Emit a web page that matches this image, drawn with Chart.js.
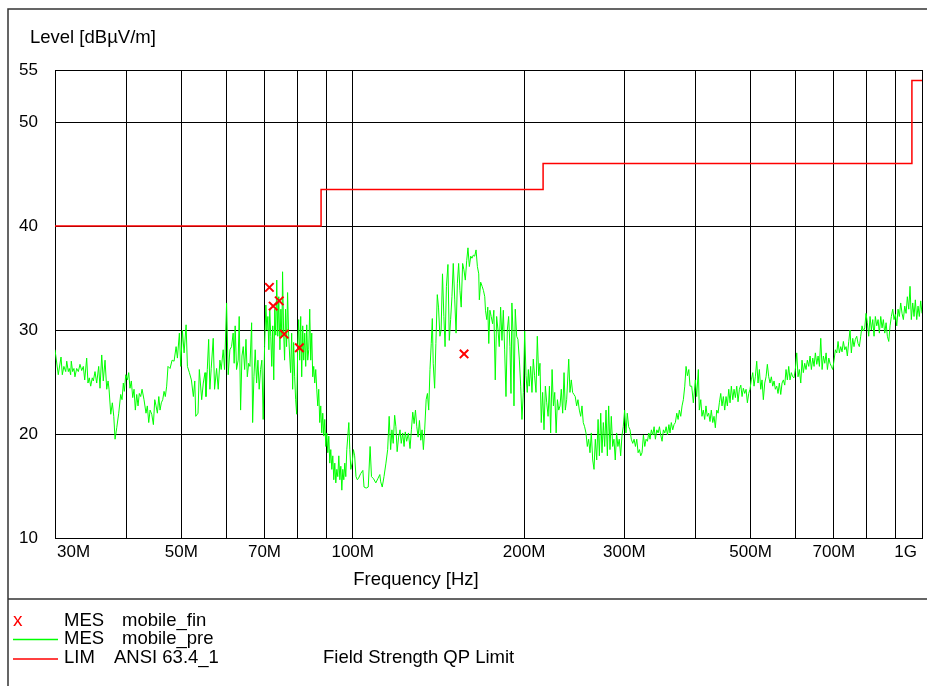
<!doctype html>
<html lang="en">
  <head>
    <meta charset="utf-8">
    <title>Field strength scan</title>
    <script src="https://cdn.jsdelivr.net/npm/chart.js"></script>
    <style>
      body { margin: 0; background: #fff; }
      canvas { display: block; }
    </style>
  </head>
  <body>
    <canvas id="scanChart" width="927" height="686"></canvas>
    <script>
      // pre-scan trace, frequency in MHz
      const traceFreq = [
        30.0, 30.4, 30.74, 30.9, 31.1, 31.33, 31.46, 31.66, 31.78, 31.96, 32.04, 32.22,
        32.39, 32.52, 32.75, 32.97, 33.19, 33.42, 33.64, 33.83, 34.1, 34.28, 34.46, 34.66,
        34.88, 35.03, 35.27, 35.51, 35.8, 35.99, 36.24, 36.47, 36.73, 36.98, 37.18, 37.33,
        37.59, 37.83, 38.05, 38.25, 38.51, 38.82, 39.13, 39.34, 39.55, 39.71, 39.94, 40.2,
        40.42, 40.63, 40.85, 41.08, 41.3, 41.52, 41.75, 41.97, 42.19, 42.43, 42.66, 43.0,
        43.35, 43.58, 43.83, 44.07, 44.37, 44.66, 44.91, 45.15, 45.39, 45.65, 45.88, 46.12,
        46.38, 46.63, 46.87, 47.13, 47.38, 47.78, 48.17, 48.56, 48.96, 49.22, 49.61, 49.89,
        50.22, 50.57, 50.98, 51.25, 51.66, 52.08, 52.5, 52.8, 53.01, 53.5, 53.78, 54.3,
        54.65, 55.03, 55.25, 55.54, 55.85, 56.13, 56.43, 56.89, 57.2, 57.67, 58.05, 58.45,
        58.75, 59.23, 59.56, 60.05, 60.44,
        60.86, 61.27, 61.67, 61.92, 62.17, 62.52, 62.93, 63.19, 63.55, 63.9, 64.24, 64.6,
        64.95, 65.3, 65.66, 66.0, 66.45, 66.72, 67.07, 67.42, 67.8, 68.16, 68.51, 68.9,
        69.26, 69.63, 70.02, 70.39, 70.67, 70.96, 71.25, 71.5, 71.8, 72.09, 72.38, 72.67,
        72.97, 73.26, 73.56, 73.86, 74.16, 74.5, 74.8, 75.1, 75.31, 75.62, 75.92, 76.23,
        76.54, 76.85, 77.16, 77.5, 77.8, 78.13, 78.44, 78.76, 79.08, 79.4, 79.73, 80.05,
        80.38, 80.71, 81.04, 81.37, 81.7, 82.03, 82.37, 82.7, 83.04, 83.38, 83.72, 84.05,
        84.4, 84.74, 85.08, 85.42, 85.77, 86.12, 86.47, 86.82, 87.17, 87.52, 87.88, 88.24,
        88.6, 88.96, 89.32, 89.7, 90.05, 90.42, 90.79, 91.15, 91.52, 91.9, 92.27, 92.64,
        93.02, 93.4, 93.78, 94.16, 94.54, 94.93, 95.31, 95.7, 96.08, 96.47, 96.86, 97.25,
        97.65, 98.05, 98.45, 98.85, 99.25, 99.77, 100.3, 100.8, 101.35, 101.9,
        102.3, 103.3, 104.2, 104.7, 105.6, 106.5, 107.3, 107.9, 108.8, 109.8, 110.7, 111.6,
        112.0, 112.7, 113.5, 114.4, 115.2, 115.9, 116.6, 117.2, 117.8, 118.5, 119.1, 119.7,
        120.4, 121.1, 121.7, 122.4, 123.1, 123.7, 124.4, 125.3, 126.1, 126.8, 127.5, 128.2,
        128.9, 129.6, 130.3, 131.0, 131.7, 132.4, 133.1, 133.8, 134.6, 135.3, 136.0, 136.7,
        137.4, 138.0, 138.5, 139.3, 140.0, 140.8, 141.5, 142.3, 143.0, 143.8, 144.6, 145.3,
        146.1, 147.0, 147.8, 148.6, 149.4, 150.2, 151.1, 151.9, 152.7, 153.5, 154.3, 155.1,
        156.0, 156.8, 157.7, 158.6, 159.4, 160.3, 161.2, 162.0, 162.9, 163.8, 164.7, 165.6,
        166.5, 166.9, 167.8, 168.8, 169.7, 170.6, 171.1, 172.0, 172.7, 173.4, 174.2, 175.1,
        176.1, 177.0, 178.0, 179.0, 180.0, 180.9, 181.9, 182.9, 183.9, 184.9, 185.9, 186.9,
        187.9, 188.9, 189.7, 190.4, 191.2,
        192.0, 193.0, 194.1, 195.1, 196.2, 197.3, 198.3, 199.4, 200.5, 201.6, 202.6, 203.5,
        204.2, 205.4, 206.5, 207.6, 208.7, 209.9, 211.0, 212.2, 213.3, 214.4, 215.6, 216.8,
        218.0, 219.2, 220.4, 221.6, 222.7, 224.0, 225.2, 226.4, 227.7, 228.9, 230.1, 231.3,
        232.5, 233.8, 235.1, 236.3, 237.6, 239.6, 240.8, 242.1, 243.4, 244.7, 246.0, 247.4,
        248.7, 250.1, 251.5, 252.8, 254.1, 255.5, 256.9, 258.3, 259.7, 261.1, 262.5, 264.0,
        265.4, 266.8, 268.3, 269.8, 271.2, 272.7, 274.1, 275.6, 277.1, 278.6, 280.1, 281.6,
        283.1, 284.6, 286.2, 287.7, 289.2, 290.8, 292.3, 293.9, 295.6, 297.1, 298.7, 300.4,
        302.0, 303.6, 305.3, 307.0, 308.6, 310.4, 312.1, 313.8, 315.5, 317.2, 318.9, 320.6,
        322.3, 324.1, 325.9, 327.6, 329.4, 331.2, 332.9, 334.7, 336.6, 338.4, 340.2, 342.1,
        344.0, 345.8, 347.6, 349.5, 351.4, 353.4, 355.3, 357.2, 359.3, 360.9, 362.8, 364.9,
        366.8, 368.8, 370.9, 372.9, 374.8, 376.9, 378.9, 380.9, 383.1, 385.1, 387.2, 389.4,
        391.3,
        394.0, 396.6, 399.8, 402.0, 404.7, 406.3, 408.7, 410.7, 412.9, 415.2, 417.4, 419.6,
        422.0, 424.3, 426.5, 429.0, 431.2, 433.5, 436.0, 438.3, 440.6, 443.1, 445.4, 447.8,
        450.3, 452.7, 455.1, 457.7, 460.1, 462.5, 465.2, 467.6, 470.1, 472.7, 475.2, 477.8,
        480.5, 483.0, 485.5, 488.3, 490.9, 493.5, 496.2, 498.8, 501.4, 504.3, 507.0, 509.6,
        512.5, 515.2, 518.0, 520.9, 523.6, 526.4, 529.4, 532.2, 535.0, 538.0, 540.9, 543.7,
        546.8, 549.7, 552.6, 555.7, 558.6, 561.6, 564.8, 567.8, 570.8, 574.0, 577.0, 580.1,
        583.3, 586.4, 589.5, 592.8, 596.0, 599.1, 602.5, 605.7, 608.9, 612.4, 615.6, 618.8,
        622.3, 625.6, 629.0, 632.6, 635.9, 639.3, 642.9, 646.3, 649.7, 653.4, 656.9, 660.4,
        664.0, 667.6, 671.1, 674.9, 678.5, 682.1, 686.0, 689.4, 693.1, 697.0, 700.7, 704.4,
        708.4, 712.1, 715.9, 719.9, 723.7, 727.6, 731.7, 735.6, 739.4, 743.6, 747.5, 751.4,
        755.7, 759.6, 763.6, 768.0, 772.0, 776.1, 780.5, 784.6, 788.7, 793.2, 797.4, 801.6,
        806.1, 810.5, 814.8, 819.4, 823.7, 828.0, 832.8, 837.2, 841.6, 846.3, 850.8, 855.3,
        860.2, 864.8, 869.3, 874.2, 878.8, 883.4, 888.4, 893.1, 897.8, 902.9, 907.7, 912.4,
        917.5, 922.5, 927.4, 932.6, 937.6, 942.5, 947.9, 952.7, 957.8, 963.2, 968.3, 973.4,
        978.9, 984.1, 989.2, 994.8, 1000
      ];
      // pre-scan level, dBµV/m
      const traceLevel = [
        28.1, 25.7, 27.4, 25.7, 26.5, 26.0, 27.0, 26.0, 26.3, 25.7, 27.0, 26.0,
        26.3, 25.5, 26.3, 26.0, 26.7, 26.1, 26.5, 25.2, 27.3, 24.9, 25.4, 24.6,
        25.4, 25.1, 26.0, 24.9, 26.5, 24.4, 27.6, 25.1, 27.1, 24.3, 25.1, 24.3,
        21.9, 23.0, 21.7, 19.5, 20.6, 22.0, 23.8, 23.3, 24.9, 24.1, 25.7, 25.2,
        25.9, 24.4, 25.1, 23.5, 24.3, 22.3, 23.8, 22.7, 23.9, 23.6, 24.3, 23.3,
        22.0, 22.7, 21.1, 22.3, 21.9, 20.9, 23.3, 22.7, 22.0, 23.6, 22.3, 23.0,
        23.3, 24.1, 23.6, 24.6, 26.5, 26.3, 27.1, 27.0, 28.4, 27.3, 29.7, 26.5,
        30.0, 27.8, 30.5, 26.5, 25.9, 25.2, 23.6, 25.1, 21.7, 22.0, 26.2, 23.3,
        24.9, 25.9, 23.6, 26.2, 29.1, 24.3, 26.3, 29.2, 24.3, 26.3, 24.3, 27.1,
        26.2, 28.1, 26.2, 32.6, 25.7,
        28.1, 28.4, 29.7, 26.8, 30.4, 26.2, 27.1, 31.3, 22.3, 27.5, 28.4, 26.2,
        29.1, 25.5, 26.8, 26.5, 30.7, 21.1, 25.5, 28.1, 24.9, 27.1, 24.3, 26.2,
        27.1, 21.4, 28.4, 32.4, 30.0, 31.3, 28.1, 32.0, 29.4, 26.5, 30.4, 25.2,
        32.0, 29.5, 34.8, 29.4, 33.2, 28.1, 32.0, 29.4, 35.6, 30.0, 27.1, 32.0,
        28.4, 33.6, 29.7, 27.5, 25.9, 29.7, 24.3, 28.8, 25.5, 23.3, 21.9, 28.1,
        31.0, 27.1, 31.3, 25.5, 30.4, 27.1, 29.7, 26.5, 30.5, 27.1, 28.1, 32.0,
        27.1, 29.7, 25.5, 26.5, 24.9, 26.2, 24.3, 22.7, 24.3, 21.1, 22.7, 20.1,
        22.0, 19.8, 21.4, 18.8, 20.1, 18.2, 19.8, 17.2, 18.5, 16.6, 17.9, 15.6,
        17.2, 15.3, 16.6, 15.9, 17.9, 15.6, 16.9, 14.6, 16.6, 15.6, 17.2, 15.9,
        18.5, 19.8, 21.1, 18.5, 16.6, 17.2, 18.5, 17.9, 15.9, 15.6,
        15.7, 16.2, 16.5, 14.9, 14.8, 14.9, 18.8, 15.9, 15.7, 15.3, 15.7, 16.1,
        15.4, 14.9, 15.9, 17.2, 18.5, 21.7, 18.5, 20.4, 19.1, 21.8, 20.7, 18.3,
        19.7, 20.4, 19.1, 20.1, 18.8, 20.2, 19.3, 20.1, 18.6, 20.4, 22.1, 21.0,
        22.3, 20.7, 19.7, 21.3, 19.4, 20.4, 18.5, 20.4, 23.3, 23.9, 22.3, 26.2,
        28.7, 31.1, 26.8, 24.4, 28.7, 33.4, 32.2, 29.4, 30.0, 35.4, 31.3, 28.4,
        34.2, 36.3, 29.0, 31.0, 33.2, 36.4, 32.9, 29.7, 34.5, 36.4, 33.8, 32.2,
        36.4, 35.8, 34.8, 36.7, 37.9, 36.1, 37.1, 36.9, 37.2, 37.1, 37.7, 36.1,
        35.4, 32.9, 34.6, 34.2, 33.8, 33.2, 31.9, 31.0, 32.2, 28.7, 31.9, 31.3,
        30.6, 31.9, 25.2, 31.3, 30.0, 28.4, 32.2, 29.0, 31.9, 28.1, 23.6, 30.0,
        31.3, 28.4, 23.9, 32.6, 30.0,
        22.7, 32.0, 29.4, 29.1, 27.2, 24.6, 21.4, 24.0, 29.9, 25.6, 24.0, 26.2,
        24.6, 26.5, 24.0, 27.2, 25.6, 24.0, 29.4, 25.6, 26.8, 21.1, 24.0, 20.4,
        24.6, 23.0, 21.7, 24.6, 20.1, 26.2, 22.7, 24.0, 20.1, 23.3, 22.3, 22.7,
        24.3, 22.0, 25.9, 22.3, 23.3, 27.2, 24.0, 25.2, 24.0, 23.8, 23.6, 22.7,
        23.3, 22.3, 21.7, 22.7, 21.1, 20.7, 20.1, 18.8, 19.5, 18.2, 20.1, 17.5,
        16.6, 19.5, 17.5, 21.4, 17.9, 22.0, 18.2, 21.1, 18.8, 22.3, 17.9, 22.7,
        18.5, 21.7, 18.8, 19.5, 17.5, 20.1, 18.8, 19.5, 17.9, 19.8, 20.7, 22.3,
        20.1, 22.0, 20.7, 20.4, 19.5, 19.1, 19.5, 18.8, 19.5, 18.2, 18.5, 17.9,
        18.2, 19.9, 18.8, 19.5, 19.3, 20.1, 19.5, 20.4, 19.9, 20.7, 19.5, 20.4,
        20.1, 20.7, 19.9, 19.3, 20.4, 20.1, 20.7, 19.9, 20.9, 20.1, 21.1, 20.4,
        20.9, 21.1, 22.0, 21.4, 22.3, 21.7, 22.7, 23.3, 24.6, 26.5, 25.6, 26.2,
        24.6,
        24.6, 23.0, 25.2, 23.6, 26.2, 22.3, 23.3, 21.7, 22.3, 21.4, 22.7, 21.7,
        22.0, 21.2, 22.3, 21.1, 21.7, 20.6, 22.3, 22.0, 23.0, 23.9, 22.7, 23.6,
        22.3, 23.6, 22.7, 24.3, 23.0, 24.6, 23.3, 24.3, 23.5, 24.6, 23.1, 24.3,
        24.7, 23.6, 24.4, 23.9, 24.3, 23.0, 23.9, 24.3, 25.2, 25.9, 24.6, 25.5,
        27.0, 24.9, 26.2, 24.3, 25.2, 23.3, 24.9, 25.5, 26.7, 25.5, 24.9, 25.5,
        24.6, 25.1, 24.3, 24.6, 23.9, 24.9, 23.8, 24.9, 25.2, 24.7, 26.2, 25.2,
        26.5, 25.2, 25.9, 25.5, 25.4, 26.2, 27.8, 25.5, 26.2, 24.9, 27.1, 25.9,
        26.8, 26.2, 27.1, 26.5, 27.5, 26.2, 27.3, 26.5, 27.8, 26.7, 27.5, 26.5,
        29.2, 26.2, 27.5, 26.8, 27.8, 26.2, 27.3, 26.8, 26.5, 26.2, 27.1, 28.1,
        27.8, 28.9, 27.8, 28.4, 27.9, 28.9, 28.1, 28.4, 27.5, 28.9, 30.0, 27.8,
        29.2, 28.4, 29.1, 29.4, 28.7, 28.4, 29.4, 30.4, 29.9, 30.2, 31.6, 30.7,
        29.4, 31.3, 30.0, 31.0, 29.4, 31.3, 30.4, 31.0, 29.7, 31.3, 30.2, 31.0,
        29.7, 30.7, 29.4, 28.9, 30.4, 31.3, 32.0, 31.0, 31.5, 30.4, 32.0, 31.3,
        32.6, 31.6, 31.0, 32.3, 31.6, 33.2, 32.0, 34.2, 31.0, 32.6, 31.3, 32.9,
        31.0, 32.3, 31.3, 32.8, 31.6
      ];

      // final measurements
      const finalFreq = [71.4, 72.5, 74.3, 75.8, 80.6, 156.9];
      const finalLevel = [34.1, 32.3, 32.8, 29.6, 28.3, 27.7];

      // limit steps (each level holds until the next frequency)
      const limitFreq = [30, 88, 216, 960, 1000];
      const limitLevel = [40, 43.5, 46, 54, 54];

      const gridFreq = [30, 40, 50, 60, 70, 80, 90, 100, 200, 300, 400, 500, 600, 700, 800, 900, 1000];
      const freqTicks = [30, 50, 70, 100, 200, 300, 500, 700, 1000];
      const freqTickLabels = ['30M', '50M', '70M', '100M', '200M', '300M', '500M', '700M', '1G'];
      const levelTicks = [10, 20, 30, 40, 50, 55];

      const legendRows = [
        ['MES', 'mobile_fin', ''],
        ['MES', 'mobile_pre', ''],
        ['LIM', 'ANSI 63.4_1', 'Field Strength QP Limit']
      ];

      const FONT = '"Liberation Sans", Arial, Helvetica, sans-serif';
      Chart.defaults.font.family = FONT;
      Chart.defaults.font.size = 17;
      Chart.defaults.color = '#000';

      const toPoints = (xs, ys) => xs.map((x, i) => ({ x: x, y: ys[i] }));

      // frame, axis captions, frequency labels and the legend block
      const pageDecor = {
        id: 'pageDecor',
        beforeDraw(chart) {
          const ctx = chart.ctx;
          ctx.save();
          ctx.fillStyle = '#fff';
          ctx.fillRect(0, 0, chart.width, chart.height);
          ctx.restore();
        },
        afterDraw(chart) {
          const ctx = chart.ctx;
          const xs = chart.scales.x;
          ctx.save();

          ctx.strokeStyle = '#333';
          ctx.lineWidth = 1.5;
          ctx.beginPath();
          ctx.moveTo(8, chart.height);
          ctx.lineTo(8, 9);
          ctx.lineTo(chart.width, 9);
          ctx.moveTo(8, 599);
          ctx.lineTo(chart.width, 599);
          ctx.stroke();

          ctx.fillStyle = '#000';
          ctx.textBaseline = 'middle';
          ctx.textAlign = 'left';
          ctx.font = '18.5px ' + FONT;
          ctx.fillText('Level [dBµV/m]', 30, 38);

          ctx.font = '17px ' + FONT;
          const last = freqTicks.length - 1;
          freqTicks.forEach((f, i) => {
            const px = xs.getPixelForValue(f);
            if (i === 0) {
              ctx.textAlign = 'left';
              ctx.fillText(freqTickLabels[i], px + 2, 552);
            } else if (i === last) {
              ctx.textAlign = 'right';
              ctx.fillText(freqTickLabels[i], px - 5, 552);
            } else {
              ctx.textAlign = 'center';
              ctx.fillText(freqTickLabels[i], px, 552);
            }
          });
          ctx.font = '18.5px ' + FONT;
          ctx.textAlign = 'center';
          ctx.fillText('Frequency [Hz]', 416, 580);

          // legend
          const ds = chart.data.datasets;
          const rowY = [621, 639, 658];
          ctx.textAlign = 'left';
          ctx.font = '19px ' + FONT;
          ctx.fillStyle = ds[0].borderColor;
          ctx.fillText('x', 13, rowY[0]);
          ctx.lineWidth = 1.5;
          ctx.strokeStyle = ds[2].borderColor;
          ctx.beginPath(); ctx.moveTo(13, rowY[1] + 0.5); ctx.lineTo(58, rowY[1] + 0.5); ctx.stroke();
          ctx.strokeStyle = ds[1].borderColor;
          ctx.beginPath(); ctx.moveTo(13, rowY[2] + 1); ctx.lineTo(58, rowY[2] + 1); ctx.stroke();

          ctx.font = '18.5px ' + FONT;
          ctx.fillStyle = '#000';
          legendRows.forEach((row, i) => {
            ctx.fillText(row[0], 64, rowY[i]);
            ctx.fillText(row[1], i === 2 ? 114 : 122, rowY[i]);
            if (row[2]) ctx.fillText(row[2], 323, rowY[i]);
          });
          ctx.restore();
        }
      };

      new Chart(document.getElementById('scanChart'), {
        type: 'line',
        data: {
          datasets: [
            {
              label: 'mobile_fin',
              type: 'scatter',
              data: toPoints(finalFreq, finalLevel),
              showLine: false,
              pointStyle: 'crossRot',
              pointRadius: 6,
              borderWidth: 2,
              borderColor: '#ff0000',
              order: 0
            },
            {
              label: 'ANSI 63.4_1',
              data: toPoints(limitFreq, limitLevel),
              stepped: 'before',
              borderColor: '#ff0000',
              borderWidth: 1.5,
              pointRadius: 0,
              order: 1
            },
            {
              label: 'mobile_pre',
              data: toPoints(traceFreq, traceLevel),
              borderColor: '#00ff00',
              borderWidth: 1,
              pointRadius: 0,
              tension: 0,
              order: 2
            }
          ]
        },
        options: {
          responsive: false,
          animation: false,
          devicePixelRatio: 1,
          layout: { autoPadding: false, padding: { left: 0, top: 70, right: 5, bottom: 0 } },
          plugins: {
            legend: { display: false },
            tooltip: { enabled: false }
          },
          scales: {
            x: {
              type: 'logarithmic',
              min: 30,
              max: 1000,
              afterBuildTicks: (s) => { s.ticks = gridFreq.map(v => ({ value: v })); },
              afterFit: (s) => { s.height = 148; },
              ticks: { display: false },
              grid: { color: '#000', lineWidth: 1, drawTicks: false },
              border: { color: '#000', width: 1 }
            },
            y: {
              min: 10,
              max: 55,
              afterBuildTicks: (s) => { s.ticks = levelTicks.map(v => ({ value: v })); },
              afterFit: (s) => { s.width = 55; },
              ticks: { color: '#000', padding: 17, font: { size: 17 } },
              grid: { color: '#000', lineWidth: 1, drawTicks: false },
              border: { color: '#000', width: 1 }
            }
          }
        },
        plugins: [pageDecor]
      });
    </script>
  </body>
</html>
